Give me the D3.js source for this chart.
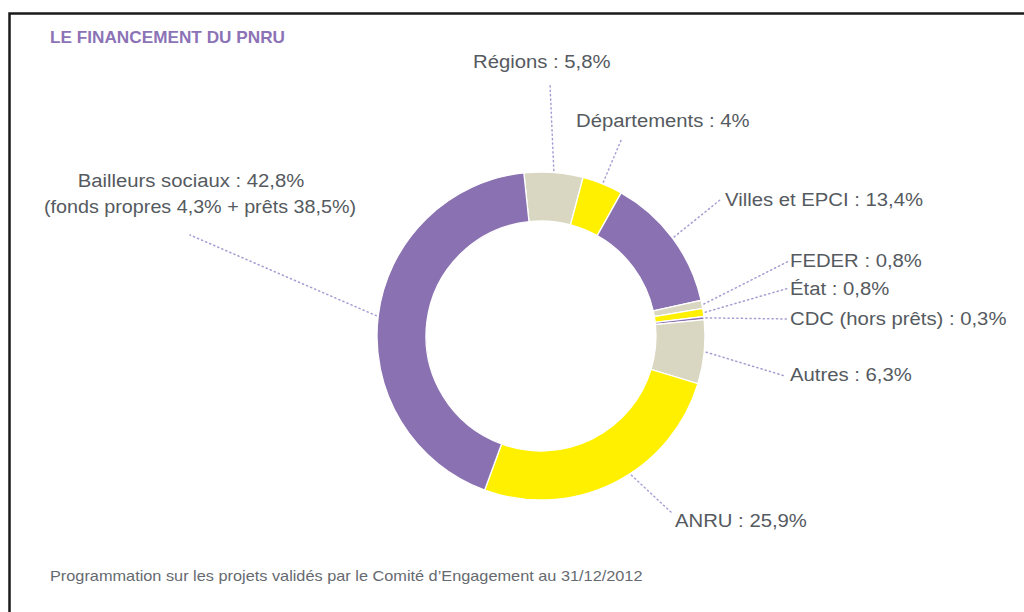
<!DOCTYPE html>
<html><head><meta charset="utf-8">
<script src="https://cdn.jsdelivr.net/npm/d3@7"></script>
<style>body{margin:0;background:#fff}svg{display:block}</style>
</head><body>
<script>
// ---- data ----
const categories = ["Régions","Départements","Villes et EPCI","FEDER","État","CDC (hors prêts)","Autres","ANRU","Bailleurs sociaux"];
const values = [5.8, 4, 13.4, 0.8, 0.8, 0.3, 6.3, 25.9, 42.8];
const valueLabels = ["5,8%","4%","13,4%","0,8%","0,8%","0,3%","6,3%","25,9%","42,8%"];
const subLabel = "(fonds propres 4,3% + prêts 38,5%)";
const title = "LE FINANCEMENT DU PNRU";
const footnote = "Programmation sur les projets validés par le Comité d’Engagement au 31/12/2012";

// ---- layout / style ----
const W = 1024, H = 612;
const cx = 541, cy = 336, rOut = 164, rIn = 115;
const startDeg = -6;
const colors = ["#d9d7c1","#fff000","#8a71b1","#d9d7c1","#fff000","#8a71b1","#d9d7c1","#fff000","#8a71b1"];
// label anchors: tx,ty text position; lx,ly leader end; anchor
const labelLayout = [
  {tx:473, ty:68, lx:550, ly:84, anchor:"start"},
  {tx:576, ty:127, lx:622, ly:138, anchor:"start"},
  {tx:725, ty:206, lx:720, ly:200, anchor:"start"},
  {tx:790, ty:267, lx:789, ly:261, anchor:"start"},
  {tx:790, ty:295, lx:789, ly:288, anchor:"start"},
  {tx:790, ty:325, lx:789, ly:319, anchor:"start"},
  {tx:790, ty:381, lx:785, ly:376, anchor:"start"},
  {tx:675, ty:527, lx:673, ly:514, anchor:"start", a:147},
  {tx:191, ty:187, lx:190, ly:235, anchor:"middle", tx2:200}
];
const textColor = "#555a60";
const sx = 1.08; // horizontal text stretch

const svg = d3.select("body").append("svg").attr("width", W).attr("height", H);

// frame
svg.append("path").attr("d", `M9.5,${H+5} V13.5 H${W+5}`)
  .attr("fill","none").attr("stroke","#1a1a1a").attr("stroke-width",2.5);

function txt(x, y, s, size, opts={}) {
  return svg.append("text")
    .attr("transform", `translate(${x},${y}) scale(${opts.sx||sx},1)`)
    .attr("text-anchor", opts.anchor||"start")
    .attr("font-family", "'Liberation Sans', Arial, sans-serif")
    .attr("font-size", size)
    .attr("font-weight", opts.weight||"normal")
    .attr("fill", opts.fill||textColor)
    .text(s);
}

txt(50, 43, title, 16.3, {weight:"bold", fill:"#8c73b6", sx:1.055});
txt(50, 581, footnote, 14, {fill:"#666a70", sx:1.165});

// donut
const pie = d3.pie().sort(null).value(d => d)
  .startAngle(startDeg*Math.PI/180).endAngle(startDeg*Math.PI/180 + 2*Math.PI*d3.sum(values)/100);
const arcs = pie(values);
const arc = d3.arc().innerRadius(rIn).outerRadius(rOut);
const g = svg.append("g").attr("transform", `translate(${cx},${cy})`);
g.selectAll("path").data(arcs).join("path")
  .attr("d", arc)
  .attr("fill", (d,i) => colors[i])
  .attr("stroke", "#fff").attr("stroke-width", 1.3);

// leaders & labels
arcs.forEach((d,i) => {
  const L = labelLayout[i];
  const a = L.a !== undefined ? L.a*Math.PI/180 : (d.startAngle + d.endAngle)/2;
  const r0 = rOut + 2;
  const x0 = cx + r0*Math.sin(a), y0 = cy - r0*Math.cos(a);
  svg.append("line").attr("x1", x0).attr("y1", y0).attr("x2", L.lx).attr("y2", L.ly)
    .attr("stroke", "#a79dd2").attr("stroke-width", 1.5)
    .attr("stroke-dasharray", "1.2,3.2").attr("stroke-linecap","round");
  txt(L.tx, L.ty, `${categories[i]} : ${valueLabels[i]}`, 18.8, {anchor:L.anchor});
  if (i === 8) txt(L.tx2, L.ty + 26, subLabel, 18.8, {anchor:L.anchor, sx:1.05});
});
</script>
</body></html>
